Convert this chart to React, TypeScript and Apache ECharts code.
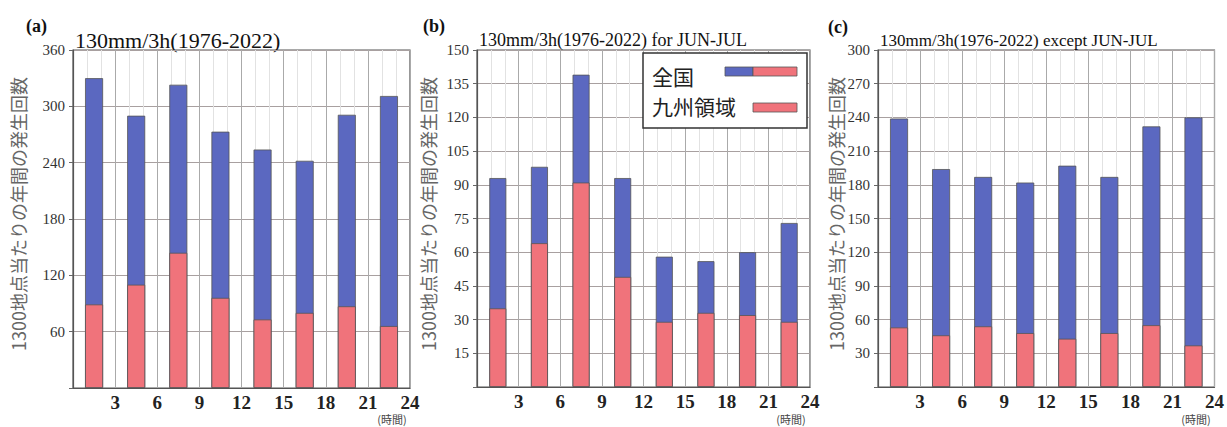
import React, { useEffect, useRef } from "react";
import * as echarts from "echarts";

// Hour-bin centres (3-hour bins)
const hours = [1.5, 4.5, 7.5, 10.5, 13.5, 16.5, 19.5, 22.5];

// (a) 130mm/3h (1976-2022)
const totalA = [330, 290, 323, 273, 254, 242, 291, 311];
const kyushuA = [89, 110, 144, 96, 73, 80, 87, 66];

// (b) for JUN-JUL
const totalB = [93, 98, 139, 93, 58, 56, 60, 73];
const kyushuB = [35, 64, 91, 49, 29, 33, 32, 29];

// (c) except JUN-JUL
const totalC = [239, 194, 187, 182, 197, 187, 232, 240];
const kyushuC = [53, 46, 54, 48, 43, 48, 55, 37];

const panelLetters = ["(a)", "(b)", "(c)"];
const panelTitles = [
  "130mm/3h(1976-2022)",
  "130mm/3h(1976-2022) for JUN-JUL",
  "130mm/3h(1976-2022) except JUN-JUL",
];
const yMax = [360, 150, 300];
const yInterval = [60, 15, 30];
const yAxisName = "1300地点当たりの年間の発生回数";
const xUnit = "(時間)";
const legendNames = ["全国", "九州領域"];

const BLUE = "#5b68c0";
const RED = "#f0737b";
const SERIF = "'Liberation Serif', 'DejaVu Serif', serif";
const CJK = "'Noto Sans CJK JP', sans-serif";

const grids = [
  { left: 73, top: 50, width: 337, height: 338 },
  { left: 477, top: 50, width: 333, height: 337 },
  { left: 878, top: 50, width: 339, height: 337 },
];

export default function App() {
  const ref = useRef<HTMLDivElement>(null);

  useEffect(() => {
    if (!ref.current) return;
    const chart = echarts.init(ref.current, null, { renderer: "svg" });
    const totals = [totalA, totalB, totalC];
    const kyushus = [kyushuA, kyushuB, kyushuC];
    const barWidths = [18, 17, 18];

    const xAxes = grids.map((_, i) => ({
      type: "value",
      gridIndex: i,
      min: 0,
      max: 24,
      interval: 3,
      axisLine: { show: true, lineStyle: { color: "#555", width: 1.2 } },
      axisTick: { show: false },
      minorTick: { show: false, splitNumber: 3 },
      minorSplitLine: { show: true, lineStyle: { color: "#e2e2e2", width: 1 } },
      splitLine: { show: true, lineStyle: { color: "#aaa", width: 1 } },
      axisLabel: {
        formatter: (v: number) => (v === 0 ? "" : String(v)),
        fontFamily: SERIF,
        fontSize: 19,
        fontWeight: "bold",
        color: "#222",
        margin: 5,
      },
    }));

    const yAxes = grids.map((_, i) => ({
      type: "value",
      gridIndex: i,
      min: 0,
      max: yMax[i],
      interval: yInterval[i],
      axisLine: { show: true, lineStyle: { color: "#555", width: 1.2 } },
      axisTick: { show: true, length: 4, lineStyle: { color: "#666" } },
      splitLine: { show: true, lineStyle: { color: "#a8a0a0", width: 1 } },
      axisLabel: {
        formatter: (v: number) => (v === 0 ? "" : String(v)),
        fontFamily: SERIF,
        fontSize: 15,
        color: "#333",
        margin: 8,
      },
    }));

    const series: any[] = [];
    grids.forEach((_, i) => {
      series.push({
        type: "bar",
        name: legendNames[0],
        xAxisIndex: i,
        yAxisIndex: i,
        barWidth: barWidths[i],
        data: hours.map((h, k) => [h, totals[i][k]]),
        itemStyle: { color: BLUE, borderColor: "#555", borderWidth: 0.8 },
      });
      series.push({
        type: "bar",
        name: legendNames[1],
        xAxisIndex: i,
        yAxisIndex: i,
        barWidth: barWidths[i],
        barGap: "-100%",
        data: hours.map((h, k) => [h, kyushus[i][k]]),
        itemStyle: { color: RED, borderColor: "#555", borderWidth: 0.8 },
      });
    });

    const letterPos = [
      [26, 27],
      [423, 27],
      [828, 28],
    ];
    const titleSizes = [22, 18, 17];
    const yNameX = [18, 428, 836];
    const unitX = [392, 791, 1196];

    const graphic: any[] = [];
    grids.forEach((g, i) => {
      graphic.push({
        type: "text",
        left: letterPos[i][0],
        top: letterPos[i][1] - 10,
        style: {
          text: panelLetters[i],
          font: `bold 18px ${SERIF}`,
          fill: "#111",
        },
      });
      graphic.push({
        type: "text",
        x: g.left + 2,
        y: 40,
        style: {
          text: panelTitles[i],
          font: `${titleSizes[i]}px ${SERIF}`,
          fill: "#111",
          verticalAlign: "middle",
          align: "left",
        },
      });
      graphic.push({
        type: "text",
        x: yNameX[i],
        y: 214,
        rotation: Math.PI / 2,
        style: {
          text: yAxisName,
          font: `18px ${CJK}`,
          fill: "#666",
          align: "center",
          verticalAlign: "middle",
        },
      });
      graphic.push({
        type: "text",
        x: unitX[i],
        y: 419,
        style: {
          text: xUnit,
          font: `11px ${CJK}`,
          fill: "#444",
          align: "center",
          verticalAlign: "middle",
        },
      });
    });

    // Legend box in panel (b)
    graphic.push({
      type: "group",
      children: [
        {
          type: "rect",
          shape: { x: 643, y: 53, width: 164, height: 75 },
          style: { fill: "#fff", stroke: "#333", lineWidth: 1.5 },
          z: 10,
        },
        {
          type: "text",
          x: 652,
          y: 76,
          z: 11,
          style: {
            text: legendNames[0],
            font: `21px ${CJK}`,
            fill: "#222",
            verticalAlign: "middle",
          },
        },
        {
          type: "rect",
          shape: { x: 725, y: 67, width: 28, height: 9 },
          style: { fill: BLUE, stroke: "#555", lineWidth: 0.8 },
          z: 11,
        },
        {
          type: "rect",
          shape: { x: 753, y: 67, width: 44, height: 9 },
          style: { fill: RED, stroke: "#555", lineWidth: 0.8 },
          z: 11,
        },
        {
          type: "text",
          x: 652,
          y: 106,
          z: 11,
          style: {
            text: legendNames[1],
            font: `21px ${CJK}`,
            fill: "#222",
            verticalAlign: "middle",
          },
        },
        {
          type: "rect",
          shape: { x: 753, y: 103, width: 44, height: 9 },
          style: { fill: RED, stroke: "#555", lineWidth: 0.8 },
          z: 11,
        },
      ],
    });

    chart.setOption({
      animation: false,
      backgroundColor: "#fff",
      grid: grids.map((g) => ({
        ...g,
        show: true,
        backgroundColor: "#fff",
        borderColor: "#555",
        borderWidth: 1.2,
        containLabel: false,
      })),
      xAxis: xAxes,
      yAxis: yAxes,
      series,
      graphic,
    });

    return () => chart.dispose();
  }, []);

  return (
    <div
      ref={ref}
      style={{ position: "absolute", left: 0, top: 0, width: 1227, height: 427 }}
    />
  );
}
